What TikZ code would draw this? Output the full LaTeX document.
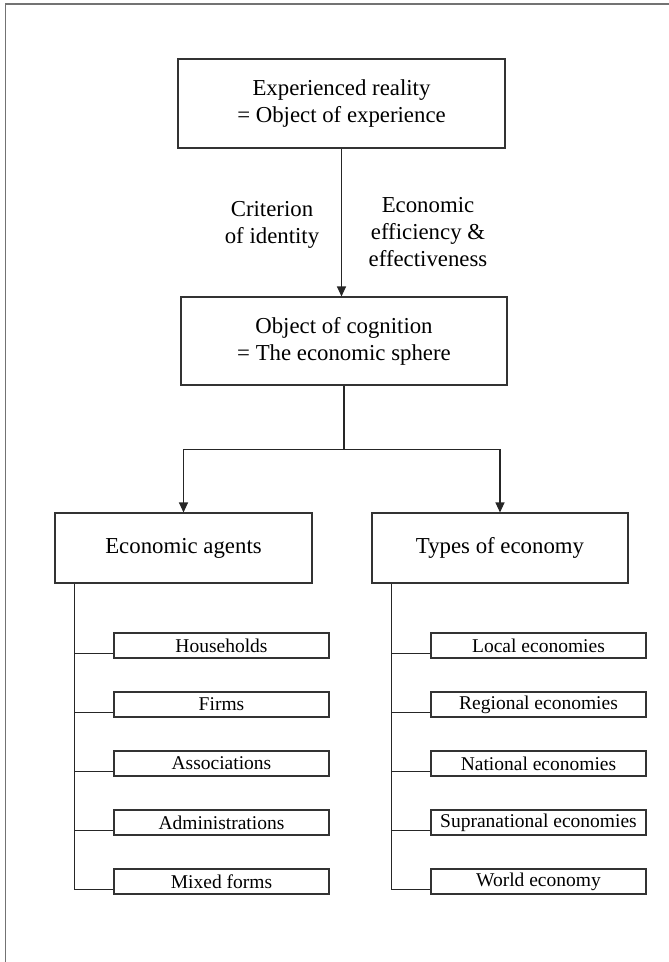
\documentclass[tikz,border=0pt]{standalone}
\usepackage{fontspec}
\setmainfont{Liberation Serif}
\usetikzlibrary{arrows.meta,calc}

\begin{document}
\begin{tikzpicture}[x=1pt,y=-1pt,
  box/.style={draw=black!80, line width=1.1pt, inner sep=0pt, align=center,
    font=\fontsize{22.8}{27}\selectfont},
  bigbox/.style={box, minimum width=#1, minimum height=88},
  midbox/.style={box, minimum width=256, minimum height=70},
  leaf/.style={draw=black!80, line width=1.1pt, inner sep=0pt,
    minimum width=215, minimum height=25, font=\fontsize{19.5}{22}\selectfont},
  lbl/.style={align=center, inner sep=0pt, font=\fontsize{22.8}{27}\selectfont},
  link/.style={draw=black!85, line width=1.1pt},
  arr/.style={link, -{Triangle[width=9pt,length=10pt]}},
  frame/.style={draw=black!55, line width=1.6pt}
]
\useasboundingbox (0,0) rectangle (669,962);

% frame lines along the top and left edge
\draw[frame] (5.5,962) -- (5.5,4) -- (669,4);

% upper part
\node[bigbox=327, minimum height=89] (exp) at (341.5,103.5)
  {Experienced reality\\= Object of experience};
\node[bigbox=326] (cog) at (344,341)
  {Object of cognition\\= The economic sphere};
\node[lbl] (crit) at (272,225) {Criterion\\of identity};
\node[lbl] (eff) at (428,232) {Economic\\efficiency \&\\effectiveness};

\draw[arr] (exp.south) -- (exp.south |- cog.north);

% the two categories
\node[midbox, minimum width=257] (agents) at (183.5,548) {Economic agents};
\node[midbox] (types) at (500,548) {Types of economy};

\coordinate (fork) at ($(cog.south)+(0,64)$);
\draw[link] (cog.south) -- (fork);
\draw[arr] (fork) -| (agents.north);
\draw[arr] (fork) -| (types.north);

% economic agents
\node[leaf] (hh)  at (221.5,645.5) {Households};
\node[leaf] (fi)  at (221.5,704.5) {Firms};
\node[leaf] (as)  at (221.5,763.5) {Associations};
\node[leaf] (ad)  at (221.5,822.5) {Administrations};
\node[leaf] (mf)  at (221.5,881.5) {Mixed forms};

% types of economy
\node[leaf] (lo)  at (538.5,645.5) {Local economies};
\node[leaf] (re)  at (538.5,704.5) {Regional economies};
\node[leaf] (na)  at (538.5,763.5) {National economies};
\node[leaf] (su)  at (538.5,822.5) {Supranational economies};
\node[leaf] (wo)  at (538.5,881.5) {World economy};

\coordinate (ltrunk) at ($(agents.south west)+(20,0)$);
\coordinate (rtrunk) at ($(types.south west)+(20,0)$);

\foreach \b in {hh,fi,as,ad,mf}
  \draw[link] ($(\b.south west)+(0,-5)$) -- (ltrunk |- {$(\b.south west)+(0,-5)$});
\foreach \b in {lo,re,na,su,wo}
  \draw[link] ($(\b.south west)+(0,-5)$) -- (rtrunk |- {$(\b.south west)+(0,-5)$});

\draw[link] (ltrunk) -- (ltrunk |- {$(mf.south west)+(0,-5)$});
\draw[link] (rtrunk) -- (rtrunk |- {$(wo.south west)+(0,-5)$});
\end{tikzpicture}
\end{document}
